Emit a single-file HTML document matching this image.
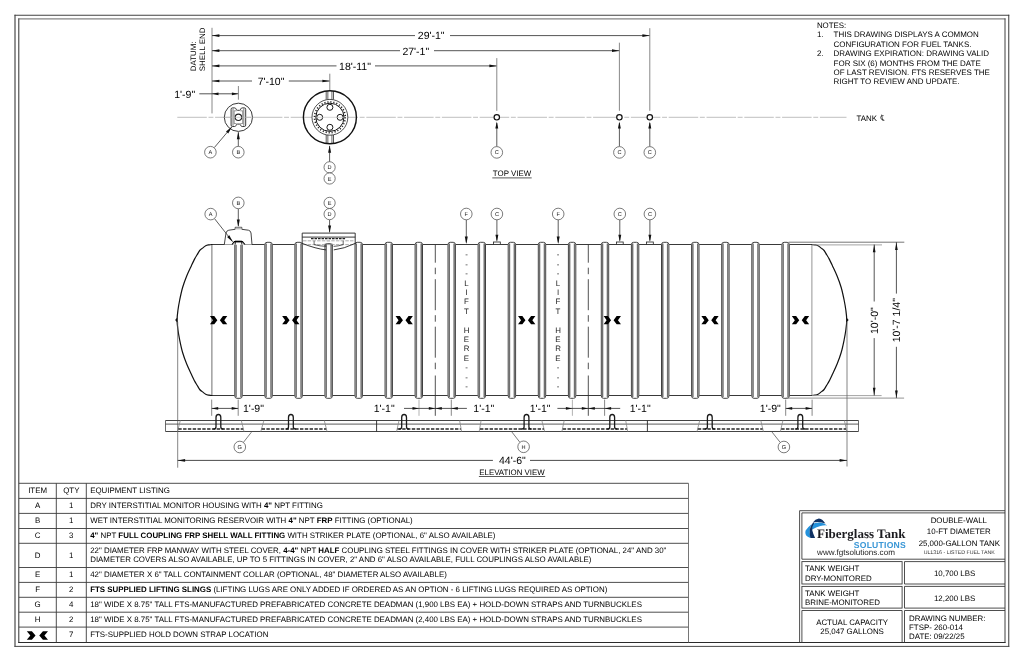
<!DOCTYPE html>
<html lang="en">
<head>
<meta charset="utf-8">
<title>Double-Wall 10-ft Diameter 25,000-Gallon Fuel Tank Drawing</title>
<style>
html,body{margin:0;padding:0;background:#fff;}
body{width:1024px;height:661px;overflow:hidden;font-family:"Liberation Sans",sans-serif;}
svg{display:block;position:absolute;left:0;top:0;}
svg text{white-space:pre;}
svg{will-change:transform;}
g.mono{filter:grayscale(1);}
</style>
</head>
<body>
<svg width="1024" height="661" viewBox="0 0 1024 661" shape-rendering="geometricPrecision" text-rendering="geometricPrecision">
<rect x="0" y="0" width="1024" height="661" fill="#ffffff"/>
<g class="mono">
<line x1="15.00" y1="14.76" x2="15.00" y2="646.90" stroke="#262626" stroke-width="1.0" />
<line x1="14.50" y1="15.26" x2="1009.28" y2="15.26" stroke="#434343" stroke-width="1.0" />
<line x1="1008.78" y1="14.76" x2="1008.78" y2="646.90" stroke="#393939" stroke-width="1.0" />
<line x1="14.50" y1="646.40" x2="1009.28" y2="646.40" stroke="#4a4a4a" stroke-width="1.0" />
<line x1="18.80" y1="18.42" x2="18.80" y2="643.00" stroke="#313131" stroke-width="1.0" />
<line x1="18.30" y1="18.92" x2="1005.50" y2="18.92" stroke="#666666" stroke-width="1.0" />
<line x1="1005.00" y1="18.42" x2="1005.00" y2="643.00" stroke="#414141" stroke-width="1.0" />
<line x1="18.30" y1="642.50" x2="1005.50" y2="642.50" stroke="#2b2b2b" stroke-width="1.0" />
<text x="816.90" y="27.60" font-family="'Liberation Sans', sans-serif" font-size="7.9" text-anchor="start" font-weight="400" fill="#000" >NOTES:</text>
<text x="816.90" y="37.40" font-family="'Liberation Sans', sans-serif" font-size="7.97" text-anchor="start" font-weight="400" fill="#000" >1.</text>
<text x="833.60" y="37.40" font-family="'Liberation Sans', sans-serif" font-size="7.97" text-anchor="start" font-weight="400" fill="#000" >THIS DRAWING DISPLAYS A COMMON</text>
<text x="833.60" y="46.77" font-family="'Liberation Sans', sans-serif" font-size="7.97" text-anchor="start" font-weight="400" fill="#000" >CONFIGURATION FOR FUEL TANKS.</text>
<text x="816.90" y="56.14" font-family="'Liberation Sans', sans-serif" font-size="7.97" text-anchor="start" font-weight="400" fill="#000" >2.</text>
<text x="833.60" y="56.14" font-family="'Liberation Sans', sans-serif" font-size="7.97" text-anchor="start" font-weight="400" fill="#000" >DRAWING EXPIRATION: DRAWING VALID</text>
<text x="833.60" y="65.51" font-family="'Liberation Sans', sans-serif" font-size="7.97" text-anchor="start" font-weight="400" fill="#000" >FOR SIX (6) MONTHS FROM THE DATE</text>
<text x="833.60" y="74.88" font-family="'Liberation Sans', sans-serif" font-size="7.97" text-anchor="start" font-weight="400" fill="#000" >OF LAST REVISION. FTS RESERVES THE</text>
<text x="833.60" y="84.25" font-family="'Liberation Sans', sans-serif" font-size="7.97" text-anchor="start" font-weight="400" fill="#000" >RIGHT TO REVIEW AND UPDATE.</text>
<line x1="177.30" y1="117.30" x2="846.50" y2="117.30" stroke="#aaaaaa" stroke-width="0.75" stroke-dasharray="29.5 1.7 4.9 1.7"/>
<text x="856.60" y="120.70" font-family="'Liberation Sans', sans-serif" font-size="7.9" text-anchor="start" font-weight="400" fill="#000" >TANK</text>
<path d="M883.6,115.6 Q880.6,115.0 880.6,117.6 Q880.8,120.0 883.6,119.6" fill="none" stroke="#333" stroke-width="0.8" />
<path d="M881.6,114.6 L882.6,120.4 L884.4,120.4" fill="none" stroke="#262626" stroke-width="0.75" />
<line x1="212.00" y1="27.80" x2="212.00" y2="113.40" stroke="#7a7a7a" stroke-width="0.9" />
<text transform="translate(195.6,71.2) rotate(-90)" font-family="'Liberation Sans', sans-serif" font-size="7.9" fill="#000">DATUM:</text>
<text transform="translate(205.4,71.2) rotate(-90)" font-family="'Liberation Sans', sans-serif" font-size="7.9" fill="#000">SHELL END</text>
<line x1="212.00" y1="35.60" x2="415.00" y2="35.60" stroke="#2a2a2a" stroke-width="0.8" />
<line x1="450.00" y1="35.60" x2="649.80" y2="35.60" stroke="#2a2a2a" stroke-width="0.8" />
<polygon points="212.00,35.60 219.40,34.25 219.40,36.95" fill="#111"/>
<polygon points="649.80,35.60 642.40,36.95 642.40,34.25" fill="#111"/>
<text x="431.20" y="39.40" font-family="'Liberation Sans', sans-serif" font-size="10.5" text-anchor="middle" font-weight="400" fill="#000" >29&#39;-1&quot;</text>
<line x1="212.00" y1="50.70" x2="400.00" y2="50.70" stroke="#2a2a2a" stroke-width="0.8" />
<line x1="434.00" y1="50.70" x2="619.40" y2="50.70" stroke="#2a2a2a" stroke-width="0.8" />
<polygon points="212.00,50.70 219.40,49.35 219.40,52.05" fill="#111"/>
<polygon points="619.40,50.70 612.00,52.05 612.00,49.35" fill="#111"/>
<text x="415.80" y="54.50" font-family="'Liberation Sans', sans-serif" font-size="10.5" text-anchor="middle" font-weight="400" fill="#000" >27&#39;-1&quot;</text>
<line x1="212.00" y1="65.90" x2="336.50" y2="65.90" stroke="#2a2a2a" stroke-width="0.8" />
<line x1="375.00" y1="65.90" x2="496.80" y2="65.90" stroke="#2a2a2a" stroke-width="0.8" />
<polygon points="212.00,65.90 219.40,64.55 219.40,67.25" fill="#111"/>
<polygon points="496.80,65.90 489.40,67.25 489.40,64.55" fill="#111"/>
<text x="355.00" y="69.70" font-family="'Liberation Sans', sans-serif" font-size="10.5" text-anchor="middle" font-weight="400" fill="#000" >18&#39;-11&quot;</text>
<line x1="212.00" y1="81.00" x2="252.00" y2="81.00" stroke="#2a2a2a" stroke-width="0.8" />
<line x1="288.80" y1="81.00" x2="329.80" y2="81.00" stroke="#2a2a2a" stroke-width="0.8" />
<polygon points="212.00,81.00 219.40,79.65 219.40,82.35" fill="#111"/>
<polygon points="329.80,81.00 322.40,82.35 322.40,79.65" fill="#111"/>
<text x="271.00" y="84.80" font-family="'Liberation Sans', sans-serif" font-size="10.5" text-anchor="middle" font-weight="400" fill="#000" >7&#39;-10&quot;</text>
<line x1="199.30" y1="93.80" x2="238.40" y2="93.80" stroke="#2a2a2a" stroke-width="0.8" />
<polygon points="212.00,93.80 218.50,92.45 218.50,95.15" fill="#111"/>
<polygon points="238.40,93.80 231.90,95.15 231.90,92.45" fill="#111"/>
<text x="184.70" y="97.60" font-family="'Liberation Sans', sans-serif" font-size="10.5" text-anchor="middle" font-weight="400" fill="#000" >1&#39;-9&quot;</text>
<line x1="238.40" y1="86.00" x2="238.40" y2="99.70" stroke="#7a7a7a" stroke-width="0.9" />
<line x1="329.80" y1="73.70" x2="329.80" y2="99.00" stroke="#7a7a7a" stroke-width="0.9" />
<line x1="496.80" y1="58.10" x2="496.80" y2="110.80" stroke="#7a7a7a" stroke-width="0.9" />
<line x1="619.40" y1="42.70" x2="619.40" y2="110.80" stroke="#7a7a7a" stroke-width="0.9" />
<line x1="649.80" y1="28.20" x2="649.80" y2="110.80" stroke="#7a7a7a" stroke-width="0.9" />
<circle cx="238.40" cy="117.30" r="14.10" fill="none" stroke="#222" stroke-width="0.9" />
<path d="M231.1,109.3 Q231.1,107.9 232.4,107.9 L234.6,107.9 Q235.6,107.9 235.95,108.8 L236.45,109.8 Q236.75,110.3 237.4,110.3 L239.4,110.3 Q240.05,110.3 240.35,109.8 L240.85,108.8 Q241.2,107.9 242.2,107.9 L244.4,107.9 Q245.7,107.9 245.7,109.3 L245.7,125.1 Q245.7,126.5 244.4,126.5 L242.2,126.5 Q241.2,126.5 240.85,125.6 L240.35,124.6 Q240.05,124.1 239.4,124.1 L237.4,124.1 Q236.75,124.1 236.45,124.6 L235.95,125.6 Q235.6,126.5 234.6,126.5 L232.4,126.5 Q231.1,126.5 231.1,125.1 Z" fill="#fff" stroke="#222" stroke-width="0.9" />
<line x1="233.00" y1="108.60" x2="233.00" y2="125.80" stroke="#444" stroke-width="0.7" />
<line x1="243.80" y1="108.60" x2="243.80" y2="125.80" stroke="#444" stroke-width="0.7" />
<path d="M234.2,110.6 L234.2,123.8 M242.6,110.6 L242.6,123.8 M234.2,110.8 L236.6,110.8 M240.2,110.8 L242.6,110.8 M234.2,123.6 L236.6,123.6 M240.2,123.6 L242.6,123.6" fill="none" stroke="#555" stroke-width="0.6" />
<circle cx="238.40" cy="117.30" r="3.20" fill="#fff" stroke="#222" stroke-width="1.1" />
<line x1="224.30" y1="117.30" x2="252.50" y2="117.30" stroke="#bbb" stroke-width="0.6" />
<line x1="214.30" y1="147.60" x2="231.90" y2="126.80" stroke="#262626" stroke-width="0.75" />
<polygon points="231.90,126.80 228.27,133.42 225.98,131.48" fill="#111"/>
<line x1="238.30" y1="146.40" x2="238.30" y2="132.20" stroke="#262626" stroke-width="0.75" />
<polygon points="238.30,131.80 239.80,139.20 236.80,139.20" fill="#111"/>
<circle cx="210.40" cy="152.20" r="5.80" fill="#fff" stroke="#444" stroke-width="0.7" />
<text x="210.40" y="154.20" font-family="'Liberation Sans', sans-serif" font-size="5.6" text-anchor="middle" font-weight="400" fill="#222" >A</text>
<circle cx="238.30" cy="152.20" r="5.80" fill="#fff" stroke="#444" stroke-width="0.7" />
<text x="238.30" y="154.20" font-family="'Liberation Sans', sans-serif" font-size="5.6" text-anchor="middle" font-weight="400" fill="#222" >B</text>
<rect x="326.0" y="91.00" width="7.6" height="8.70" fill="#fff" stroke="none"/>
<line x1="326.20" y1="91.00" x2="326.20" y2="99.70" stroke="#444" stroke-width="0.9" />
<line x1="333.50" y1="91.00" x2="333.50" y2="99.70" stroke="#444" stroke-width="0.9" />
<line x1="327.80" y1="91.00" x2="327.80" y2="99.70" stroke="#888" stroke-width="1.3" />
<line x1="331.90" y1="91.00" x2="331.90" y2="99.70" stroke="#888" stroke-width="1.3" />
<rect x="326.0" y="134.90" width="7.6" height="8.70" fill="#fff" stroke="none"/>
<line x1="326.20" y1="134.90" x2="326.20" y2="143.60" stroke="#444" stroke-width="0.9" />
<line x1="333.50" y1="134.90" x2="333.50" y2="143.60" stroke="#444" stroke-width="0.9" />
<line x1="327.80" y1="134.90" x2="327.80" y2="143.60" stroke="#888" stroke-width="1.3" />
<line x1="331.90" y1="134.90" x2="331.90" y2="143.60" stroke="#888" stroke-width="1.3" />
<circle cx="329.90" cy="117.30" r="26.50" fill="none" stroke="#111" stroke-width="1.4" />
<circle cx="329.90" cy="117.30" r="17.90" fill="#fff" stroke="#222" stroke-width="0.8" />
<circle cx="329.90" cy="117.30" r="15.40" fill="none" stroke="#222" stroke-width="1.6" stroke-dasharray="1.15 1.874"/>
<circle cx="329.90" cy="117.30" r="14.10" fill="none" stroke="#111" stroke-width="1.0" />
<circle cx="329.90" cy="107.30" r="3.00" fill="#fff" stroke="#1a1a1a" stroke-width="1.0" />
<circle cx="329.90" cy="127.30" r="3.00" fill="#fff" stroke="#1a1a1a" stroke-width="1.0" />
<circle cx="319.70" cy="117.30" r="3.00" fill="#fff" stroke="#1a1a1a" stroke-width="1.0" />
<circle cx="340.10" cy="117.30" r="3.00" fill="#fff" stroke="#1a1a1a" stroke-width="1.0" />
<line x1="315.90" y1="117.30" x2="343.90" y2="117.30" stroke="#bbb" stroke-width="0.6" />
<line x1="329.60" y1="161.80" x2="329.60" y2="146.00" stroke="#262626" stroke-width="0.75" />
<polygon points="329.60,145.30 331.10,152.70 328.10,152.70" fill="#111"/>
<circle cx="329.60" cy="167.30" r="5.60" fill="#fff" stroke="#444" stroke-width="0.7" />
<text x="329.60" y="169.30" font-family="'Liberation Sans', sans-serif" font-size="5.6" text-anchor="middle" font-weight="400" fill="#222" >D</text>
<circle cx="329.60" cy="178.50" r="5.60" fill="#fff" stroke="#444" stroke-width="0.7" />
<text x="329.60" y="180.50" font-family="'Liberation Sans', sans-serif" font-size="5.6" text-anchor="middle" font-weight="400" fill="#222" >E</text>
<circle cx="496.80" cy="117.30" r="2.70" fill="#fff" stroke="#111" stroke-width="1.2" />
<line x1="496.80" y1="146.50" x2="496.80" y2="123.00" stroke="#262626" stroke-width="0.75" />
<polygon points="496.80,121.60 498.25,128.60 495.35,128.60" fill="#111"/>
<circle cx="496.80" cy="152.40" r="5.80" fill="#fff" stroke="#444" stroke-width="0.7" />
<text x="496.80" y="154.40" font-family="'Liberation Sans', sans-serif" font-size="5.6" text-anchor="middle" font-weight="400" fill="#222" >C</text>
<circle cx="619.40" cy="117.30" r="2.70" fill="#fff" stroke="#111" stroke-width="1.2" />
<line x1="619.40" y1="146.50" x2="619.40" y2="123.00" stroke="#262626" stroke-width="0.75" />
<polygon points="619.40,121.60 620.85,128.60 617.95,128.60" fill="#111"/>
<circle cx="619.40" cy="152.40" r="5.80" fill="#fff" stroke="#444" stroke-width="0.7" />
<text x="619.40" y="154.40" font-family="'Liberation Sans', sans-serif" font-size="5.6" text-anchor="middle" font-weight="400" fill="#222" >C</text>
<circle cx="649.80" cy="117.30" r="2.70" fill="#fff" stroke="#111" stroke-width="1.2" />
<line x1="649.80" y1="146.50" x2="649.80" y2="123.00" stroke="#262626" stroke-width="0.75" />
<polygon points="649.80,121.60 651.25,128.60 648.35,128.60" fill="#111"/>
<circle cx="649.80" cy="152.40" r="5.80" fill="#fff" stroke="#444" stroke-width="0.7" />
<text x="649.80" y="154.40" font-family="'Liberation Sans', sans-serif" font-size="5.6" text-anchor="middle" font-weight="400" fill="#222" >C</text>
<text x="512.00" y="176.40" font-family="'Liberation Sans', sans-serif" font-size="7.9" text-anchor="middle" font-weight="400" fill="#000" >TOP VIEW</text>
<line x1="492.30" y1="177.90" x2="531.70" y2="177.90" stroke="#111" stroke-width="0.7" />
<line x1="211.90" y1="244.50" x2="211.90" y2="395.50" stroke="#606060" stroke-width="0.9" />
<line x1="811.90" y1="244.50" x2="811.90" y2="395.50" stroke="#888" stroke-width="0.9" />
<line x1="211.90" y1="244.50" x2="811.90" y2="244.50" stroke="#222" stroke-width="0.9" />
<line x1="211.90" y1="395.50" x2="811.90" y2="395.50" stroke="#222" stroke-width="0.9" />
<path d="M211.90,244.50 C210.73,244.56 209.93,244.64 208.90,244.85 C207.87,245.06 206.75,245.21 205.70,245.75 C204.65,246.29 203.60,247.31 202.60,248.10 C201.60,248.89 200.62,249.38 199.70,250.50 C198.78,251.62 197.92,253.45 197.10,254.80 C196.28,256.15 195.75,256.78 194.80,258.60 C193.85,260.42 192.75,262.80 191.40,265.70 C190.05,268.60 188.17,272.37 186.70,276.00 C185.23,279.63 183.77,283.50 182.60,287.50 C181.43,291.50 180.48,296.17 179.70,300.00 C178.92,303.83 178.34,307.17 177.90,310.50 C177.46,313.83 177.05,316.83 177.05,320.00 C177.05,323.17 177.46,326.17 177.90,329.50 C178.34,332.83 178.92,336.17 179.70,340.00 C180.48,343.83 181.43,348.50 182.60,352.50 C183.77,356.50 185.23,360.37 186.70,364.00 C188.17,367.63 190.05,371.40 191.40,374.30 C192.75,377.20 193.85,379.58 194.80,381.40 C195.75,383.22 196.28,383.85 197.10,385.20 C197.92,386.55 198.78,388.38 199.70,389.50 C200.62,390.62 201.60,391.11 202.60,391.90 C203.60,392.69 204.65,393.71 205.70,394.25 C206.75,394.79 207.87,394.94 208.90,395.15 C209.93,395.36 210.73,395.44 211.90,395.50" fill="none" stroke="#111" stroke-width="1.2" stroke-linejoin="round" stroke-linecap="round"/>
<polygon points="177.35,317.40 175.15,320.00 177.35,322.60" fill="#111"/>
<path d="M811.90,244.50 C813.07,244.56 813.87,244.64 814.90,244.85 C815.93,245.06 817.05,245.21 818.10,245.75 C819.15,246.29 820.20,247.31 821.20,248.10 C822.20,248.89 823.18,249.38 824.10,250.50 C825.02,251.62 825.88,253.45 826.70,254.80 C827.52,256.15 828.05,256.78 829.00,258.60 C829.95,260.42 831.05,262.80 832.40,265.70 C833.75,268.60 835.63,272.37 837.10,276.00 C838.57,279.63 840.03,283.50 841.20,287.50 C842.37,291.50 843.32,296.17 844.10,300.00 C844.88,303.83 845.46,307.17 845.90,310.50 C846.34,313.83 846.75,316.83 846.75,320.00 C846.75,323.17 846.34,326.17 845.90,329.50 C845.46,332.83 844.88,336.17 844.10,340.00 C843.32,343.83 842.37,348.50 841.20,352.50 C840.03,356.50 838.57,360.37 837.10,364.00 C835.63,367.63 833.75,371.40 832.40,374.30 C831.05,377.20 829.95,379.58 829.00,381.40 C828.05,383.22 827.52,383.85 826.70,385.20 C825.88,386.55 825.02,388.38 824.10,389.50 C823.18,390.62 822.20,391.11 821.20,391.90 C820.20,392.69 819.15,393.71 818.10,394.25 C817.05,394.79 815.93,394.94 814.90,395.15 C813.87,395.36 813.07,395.44 811.90,395.50" fill="none" stroke="#111" stroke-width="1.2" stroke-linejoin="round" stroke-linecap="round"/>
<polygon points="846.45,317.40 848.65,320.00 846.45,322.60" fill="#111"/>
<rect x="302.2" y="233.1" width="53.0" height="11.9" fill="#fff" stroke="none"/>
<rect x="234.50" y="242.50" width="8" height="155.60" rx="2.2" ry="2.2" fill="#fff" stroke="none"/>
<path d="M234.80,395.90 L234.80,244.70 Q234.80,242.30 237.00,242.30 L240.00,242.30 Q242.20,242.30 242.20,244.70 L242.20,395.90 Q242.20,398.30 240.00,398.30 L237.00,398.30 Q234.80,398.30 234.80,395.90 Z" fill="none" stroke="#404040" stroke-width="1.0" />
<line x1="236.05" y1="243.50" x2="236.05" y2="397.10" stroke="#707070" stroke-width="1.5" />
<line x1="240.95" y1="243.50" x2="240.95" y2="397.10" stroke="#707070" stroke-width="1.5" />
<rect x="264.55" y="242.50" width="8" height="155.60" rx="2.2" ry="2.2" fill="#fff" stroke="none"/>
<path d="M264.85,395.90 L264.85,244.70 Q264.85,242.30 267.05,242.30 L270.05,242.30 Q272.25,242.30 272.25,244.70 L272.25,395.90 Q272.25,398.30 270.05,398.30 L267.05,398.30 Q264.85,398.30 264.85,395.90 Z" fill="none" stroke="#404040" stroke-width="1.0" />
<line x1="266.10" y1="243.50" x2="266.10" y2="397.10" stroke="#707070" stroke-width="1.5" />
<line x1="271.00" y1="243.50" x2="271.00" y2="397.10" stroke="#707070" stroke-width="1.5" />
<rect x="294.60" y="242.50" width="8" height="155.60" rx="2.2" ry="2.2" fill="#fff" stroke="none"/>
<path d="M294.90,395.90 L294.90,244.70 Q294.90,242.30 297.10,242.30 L300.10,242.30 Q302.30,242.30 302.30,244.70 L302.30,395.90 Q302.30,398.30 300.10,398.30 L297.10,398.30 Q294.90,398.30 294.90,395.90 Z" fill="none" stroke="#404040" stroke-width="1.0" />
<line x1="296.15" y1="243.50" x2="296.15" y2="397.10" stroke="#707070" stroke-width="1.5" />
<line x1="301.05" y1="243.50" x2="301.05" y2="397.10" stroke="#707070" stroke-width="1.5" />
<rect x="324.65" y="242.50" width="8" height="155.60" rx="2.2" ry="2.2" fill="#fff" stroke="none"/>
<path d="M324.95,395.90 L324.95,244.70 Q324.95,242.30 327.15,242.30 L330.15,242.30 Q332.35,242.30 332.35,244.70 L332.35,395.90 Q332.35,398.30 330.15,398.30 L327.15,398.30 Q324.95,398.30 324.95,395.90 Z" fill="none" stroke="#404040" stroke-width="1.0" />
<line x1="326.20" y1="243.50" x2="326.20" y2="397.10" stroke="#707070" stroke-width="1.5" />
<line x1="331.10" y1="243.50" x2="331.10" y2="397.10" stroke="#707070" stroke-width="1.5" />
<rect x="354.70" y="242.50" width="8" height="155.60" rx="2.2" ry="2.2" fill="#fff" stroke="none"/>
<path d="M355.00,395.90 L355.00,244.70 Q355.00,242.30 357.20,242.30 L360.20,242.30 Q362.40,242.30 362.40,244.70 L362.40,395.90 Q362.40,398.30 360.20,398.30 L357.20,398.30 Q355.00,398.30 355.00,395.90 Z" fill="none" stroke="#404040" stroke-width="1.0" />
<line x1="356.25" y1="243.50" x2="356.25" y2="397.10" stroke="#707070" stroke-width="1.5" />
<line x1="361.15" y1="243.50" x2="361.15" y2="397.10" stroke="#707070" stroke-width="1.5" />
<rect x="384.75" y="242.50" width="8" height="155.60" rx="2.2" ry="2.2" fill="#fff" stroke="none"/>
<path d="M385.05,395.90 L385.05,244.70 Q385.05,242.30 387.25,242.30 L390.25,242.30 Q392.45,242.30 392.45,244.70 L392.45,395.90 Q392.45,398.30 390.25,398.30 L387.25,398.30 Q385.05,398.30 385.05,395.90 Z" fill="none" stroke="#404040" stroke-width="1.0" />
<line x1="386.30" y1="243.50" x2="386.30" y2="397.10" stroke="#707070" stroke-width="1.5" />
<line x1="391.20" y1="243.50" x2="391.20" y2="397.10" stroke="#707070" stroke-width="1.5" />
<rect x="414.80" y="242.50" width="8" height="155.60" rx="2.2" ry="2.2" fill="#fff" stroke="none"/>
<path d="M415.10,395.90 L415.10,244.70 Q415.10,242.30 417.30,242.30 L420.30,242.30 Q422.50,242.30 422.50,244.70 L422.50,395.90 Q422.50,398.30 420.30,398.30 L417.30,398.30 Q415.10,398.30 415.10,395.90 Z" fill="none" stroke="#404040" stroke-width="1.0" />
<line x1="416.35" y1="243.50" x2="416.35" y2="397.10" stroke="#707070" stroke-width="1.5" />
<line x1="421.25" y1="243.50" x2="421.25" y2="397.10" stroke="#707070" stroke-width="1.5" />
<rect x="447.70" y="242.50" width="8" height="155.60" rx="2.2" ry="2.2" fill="#fff" stroke="none"/>
<path d="M448.00,395.90 L448.00,244.70 Q448.00,242.30 450.20,242.30 L453.20,242.30 Q455.40,242.30 455.40,244.70 L455.40,395.90 Q455.40,398.30 453.20,398.30 L450.20,398.30 Q448.00,398.30 448.00,395.90 Z" fill="none" stroke="#404040" stroke-width="1.0" />
<line x1="449.25" y1="243.50" x2="449.25" y2="397.10" stroke="#707070" stroke-width="1.5" />
<line x1="454.15" y1="243.50" x2="454.15" y2="397.10" stroke="#707070" stroke-width="1.5" />
<rect x="477.80" y="242.50" width="8" height="155.60" rx="2.2" ry="2.2" fill="#fff" stroke="none"/>
<path d="M478.10,395.90 L478.10,244.70 Q478.10,242.30 480.30,242.30 L483.30,242.30 Q485.50,242.30 485.50,244.70 L485.50,395.90 Q485.50,398.30 483.30,398.30 L480.30,398.30 Q478.10,398.30 478.10,395.90 Z" fill="none" stroke="#404040" stroke-width="1.0" />
<line x1="479.35" y1="243.50" x2="479.35" y2="397.10" stroke="#707070" stroke-width="1.5" />
<line x1="484.25" y1="243.50" x2="484.25" y2="397.10" stroke="#707070" stroke-width="1.5" />
<rect x="507.90" y="242.50" width="8" height="155.60" rx="2.2" ry="2.2" fill="#fff" stroke="none"/>
<path d="M508.20,395.90 L508.20,244.70 Q508.20,242.30 510.40,242.30 L513.40,242.30 Q515.60,242.30 515.60,244.70 L515.60,395.90 Q515.60,398.30 513.40,398.30 L510.40,398.30 Q508.20,398.30 508.20,395.90 Z" fill="none" stroke="#404040" stroke-width="1.0" />
<line x1="509.45" y1="243.50" x2="509.45" y2="397.10" stroke="#707070" stroke-width="1.5" />
<line x1="514.35" y1="243.50" x2="514.35" y2="397.10" stroke="#707070" stroke-width="1.5" />
<rect x="538.00" y="242.50" width="8" height="155.60" rx="2.2" ry="2.2" fill="#fff" stroke="none"/>
<path d="M538.30,395.90 L538.30,244.70 Q538.30,242.30 540.50,242.30 L543.50,242.30 Q545.70,242.30 545.70,244.70 L545.70,395.90 Q545.70,398.30 543.50,398.30 L540.50,398.30 Q538.30,398.30 538.30,395.90 Z" fill="none" stroke="#404040" stroke-width="1.0" />
<line x1="539.55" y1="243.50" x2="539.55" y2="397.10" stroke="#707070" stroke-width="1.5" />
<line x1="544.45" y1="243.50" x2="544.45" y2="397.10" stroke="#707070" stroke-width="1.5" />
<rect x="568.10" y="242.50" width="8" height="155.60" rx="2.2" ry="2.2" fill="#fff" stroke="none"/>
<path d="M568.40,395.90 L568.40,244.70 Q568.40,242.30 570.60,242.30 L573.60,242.30 Q575.80,242.30 575.80,244.70 L575.80,395.90 Q575.80,398.30 573.60,398.30 L570.60,398.30 Q568.40,398.30 568.40,395.90 Z" fill="none" stroke="#404040" stroke-width="1.0" />
<line x1="569.65" y1="243.50" x2="569.65" y2="397.10" stroke="#707070" stroke-width="1.5" />
<line x1="574.55" y1="243.50" x2="574.55" y2="397.10" stroke="#707070" stroke-width="1.5" />
<rect x="601.00" y="242.50" width="8" height="155.60" rx="2.2" ry="2.2" fill="#fff" stroke="none"/>
<path d="M601.30,395.90 L601.30,244.70 Q601.30,242.30 603.50,242.30 L606.50,242.30 Q608.70,242.30 608.70,244.70 L608.70,395.90 Q608.70,398.30 606.50,398.30 L603.50,398.30 Q601.30,398.30 601.30,395.90 Z" fill="none" stroke="#404040" stroke-width="1.0" />
<line x1="602.55" y1="243.50" x2="602.55" y2="397.10" stroke="#707070" stroke-width="1.5" />
<line x1="607.45" y1="243.50" x2="607.45" y2="397.10" stroke="#707070" stroke-width="1.5" />
<rect x="631.10" y="242.50" width="8" height="155.60" rx="2.2" ry="2.2" fill="#fff" stroke="none"/>
<path d="M631.40,395.90 L631.40,244.70 Q631.40,242.30 633.60,242.30 L636.60,242.30 Q638.80,242.30 638.80,244.70 L638.80,395.90 Q638.80,398.30 636.60,398.30 L633.60,398.30 Q631.40,398.30 631.40,395.90 Z" fill="none" stroke="#404040" stroke-width="1.0" />
<line x1="632.65" y1="243.50" x2="632.65" y2="397.10" stroke="#707070" stroke-width="1.5" />
<line x1="637.55" y1="243.50" x2="637.55" y2="397.10" stroke="#707070" stroke-width="1.5" />
<rect x="661.20" y="242.50" width="8" height="155.60" rx="2.2" ry="2.2" fill="#fff" stroke="none"/>
<path d="M661.50,395.90 L661.50,244.70 Q661.50,242.30 663.70,242.30 L666.70,242.30 Q668.90,242.30 668.90,244.70 L668.90,395.90 Q668.90,398.30 666.70,398.30 L663.70,398.30 Q661.50,398.30 661.50,395.90 Z" fill="none" stroke="#404040" stroke-width="1.0" />
<line x1="662.75" y1="243.50" x2="662.75" y2="397.10" stroke="#707070" stroke-width="1.5" />
<line x1="667.65" y1="243.50" x2="667.65" y2="397.10" stroke="#707070" stroke-width="1.5" />
<rect x="691.30" y="242.50" width="8" height="155.60" rx="2.2" ry="2.2" fill="#fff" stroke="none"/>
<path d="M691.60,395.90 L691.60,244.70 Q691.60,242.30 693.80,242.30 L696.80,242.30 Q699.00,242.30 699.00,244.70 L699.00,395.90 Q699.00,398.30 696.80,398.30 L693.80,398.30 Q691.60,398.30 691.60,395.90 Z" fill="none" stroke="#404040" stroke-width="1.0" />
<line x1="692.85" y1="243.50" x2="692.85" y2="397.10" stroke="#707070" stroke-width="1.5" />
<line x1="697.75" y1="243.50" x2="697.75" y2="397.10" stroke="#707070" stroke-width="1.5" />
<rect x="721.40" y="242.50" width="8" height="155.60" rx="2.2" ry="2.2" fill="#fff" stroke="none"/>
<path d="M721.70,395.90 L721.70,244.70 Q721.70,242.30 723.90,242.30 L726.90,242.30 Q729.10,242.30 729.10,244.70 L729.10,395.90 Q729.10,398.30 726.90,398.30 L723.90,398.30 Q721.70,398.30 721.70,395.90 Z" fill="none" stroke="#404040" stroke-width="1.0" />
<line x1="722.95" y1="243.50" x2="722.95" y2="397.10" stroke="#707070" stroke-width="1.5" />
<line x1="727.85" y1="243.50" x2="727.85" y2="397.10" stroke="#707070" stroke-width="1.5" />
<rect x="751.50" y="242.50" width="8" height="155.60" rx="2.2" ry="2.2" fill="#fff" stroke="none"/>
<path d="M751.80,395.90 L751.80,244.70 Q751.80,242.30 754.00,242.30 L757.00,242.30 Q759.20,242.30 759.20,244.70 L759.20,395.90 Q759.20,398.30 757.00,398.30 L754.00,398.30 Q751.80,398.30 751.80,395.90 Z" fill="none" stroke="#404040" stroke-width="1.0" />
<line x1="753.05" y1="243.50" x2="753.05" y2="397.10" stroke="#707070" stroke-width="1.5" />
<line x1="757.95" y1="243.50" x2="757.95" y2="397.10" stroke="#707070" stroke-width="1.5" />
<rect x="781.60" y="242.50" width="8" height="155.60" rx="2.2" ry="2.2" fill="#fff" stroke="none"/>
<path d="M781.90,395.90 L781.90,244.70 Q781.90,242.30 784.10,242.30 L787.10,242.30 Q789.30,242.30 789.30,244.70 L789.30,395.90 Q789.30,398.30 787.10,398.30 L784.10,398.30 Q781.90,398.30 781.90,395.90 Z" fill="none" stroke="#404040" stroke-width="1.0" />
<line x1="783.15" y1="243.50" x2="783.15" y2="397.10" stroke="#707070" stroke-width="1.5" />
<line x1="788.05" y1="243.50" x2="788.05" y2="397.10" stroke="#707070" stroke-width="1.5" />
<line x1="435.30" y1="244.50" x2="435.30" y2="371.60" stroke="#333" stroke-width="0.85" stroke-dasharray="31 5 6.5 5" stroke-dashoffset="12.8"/>
<line x1="435.30" y1="375.50" x2="435.30" y2="415.80" stroke="#333" stroke-width="0.85" />
<line x1="588.30" y1="244.50" x2="588.30" y2="371.60" stroke="#333" stroke-width="0.85" stroke-dasharray="31 5 6.5 5" stroke-dashoffset="12.8"/>
<line x1="588.30" y1="375.50" x2="588.30" y2="415.80" stroke="#333" stroke-width="0.85" />
<text x="466.50" y="257.29" font-family="'Liberation Sans', sans-serif" font-size="7.9" text-anchor="middle" font-weight="400" fill="#222" >-</text>
<text x="466.50" y="266.71" font-family="'Liberation Sans', sans-serif" font-size="7.9" text-anchor="middle" font-weight="400" fill="#222" >-</text>
<text x="466.50" y="276.13" font-family="'Liberation Sans', sans-serif" font-size="7.9" text-anchor="middle" font-weight="400" fill="#222" >-</text>
<text x="466.50" y="285.55" font-family="'Liberation Sans', sans-serif" font-size="7.9" text-anchor="middle" font-weight="400" fill="#222" >L</text>
<text x="466.50" y="294.97" font-family="'Liberation Sans', sans-serif" font-size="7.9" text-anchor="middle" font-weight="400" fill="#222" >I</text>
<text x="466.50" y="304.39" font-family="'Liberation Sans', sans-serif" font-size="7.9" text-anchor="middle" font-weight="400" fill="#222" >F</text>
<text x="466.50" y="313.81" font-family="'Liberation Sans', sans-serif" font-size="7.9" text-anchor="middle" font-weight="400" fill="#222" >T</text>
<text x="466.50" y="332.65" font-family="'Liberation Sans', sans-serif" font-size="7.9" text-anchor="middle" font-weight="400" fill="#222" >H</text>
<text x="466.50" y="342.07" font-family="'Liberation Sans', sans-serif" font-size="7.9" text-anchor="middle" font-weight="400" fill="#222" >E</text>
<text x="466.50" y="351.49" font-family="'Liberation Sans', sans-serif" font-size="7.9" text-anchor="middle" font-weight="400" fill="#222" >R</text>
<text x="466.50" y="360.91" font-family="'Liberation Sans', sans-serif" font-size="7.9" text-anchor="middle" font-weight="400" fill="#222" >E</text>
<text x="466.50" y="370.33" font-family="'Liberation Sans', sans-serif" font-size="7.9" text-anchor="middle" font-weight="400" fill="#222" >-</text>
<text x="466.50" y="379.75" font-family="'Liberation Sans', sans-serif" font-size="7.9" text-anchor="middle" font-weight="400" fill="#222" >-</text>
<text x="466.50" y="389.17" font-family="'Liberation Sans', sans-serif" font-size="7.9" text-anchor="middle" font-weight="400" fill="#222" >-</text>
<text x="558.00" y="257.29" font-family="'Liberation Sans', sans-serif" font-size="7.9" text-anchor="middle" font-weight="400" fill="#222" >-</text>
<text x="558.00" y="266.71" font-family="'Liberation Sans', sans-serif" font-size="7.9" text-anchor="middle" font-weight="400" fill="#222" >-</text>
<text x="558.00" y="276.13" font-family="'Liberation Sans', sans-serif" font-size="7.9" text-anchor="middle" font-weight="400" fill="#222" >-</text>
<text x="558.00" y="285.55" font-family="'Liberation Sans', sans-serif" font-size="7.9" text-anchor="middle" font-weight="400" fill="#222" >L</text>
<text x="558.00" y="294.97" font-family="'Liberation Sans', sans-serif" font-size="7.9" text-anchor="middle" font-weight="400" fill="#222" >I</text>
<text x="558.00" y="304.39" font-family="'Liberation Sans', sans-serif" font-size="7.9" text-anchor="middle" font-weight="400" fill="#222" >F</text>
<text x="558.00" y="313.81" font-family="'Liberation Sans', sans-serif" font-size="7.9" text-anchor="middle" font-weight="400" fill="#222" >T</text>
<text x="558.00" y="332.65" font-family="'Liberation Sans', sans-serif" font-size="7.9" text-anchor="middle" font-weight="400" fill="#222" >H</text>
<text x="558.00" y="342.07" font-family="'Liberation Sans', sans-serif" font-size="7.9" text-anchor="middle" font-weight="400" fill="#222" >E</text>
<text x="558.00" y="351.49" font-family="'Liberation Sans', sans-serif" font-size="7.9" text-anchor="middle" font-weight="400" fill="#222" >R</text>
<text x="558.00" y="360.91" font-family="'Liberation Sans', sans-serif" font-size="7.9" text-anchor="middle" font-weight="400" fill="#222" >E</text>
<text x="558.00" y="370.33" font-family="'Liberation Sans', sans-serif" font-size="7.9" text-anchor="middle" font-weight="400" fill="#222" >-</text>
<text x="558.00" y="379.75" font-family="'Liberation Sans', sans-serif" font-size="7.9" text-anchor="middle" font-weight="400" fill="#222" >-</text>
<text x="558.00" y="389.17" font-family="'Liberation Sans', sans-serif" font-size="7.9" text-anchor="middle" font-weight="400" fill="#222" >-</text>
<polygon points="209.95,316.05 214.25,316.05 217.35,320.20 214.25,324.35 209.95,324.35 212.95,320.20" fill="#000"/>
<polygon points="227.25,316.05 222.95,316.05 219.85,320.20 222.95,324.35 227.25,324.35 224.25,320.20" fill="#000"/>
<polygon points="282.15,316.05 286.45,316.05 289.55,320.20 286.45,324.35 282.15,324.35 285.15,320.20" fill="#000"/>
<polygon points="299.45,316.05 295.15,316.05 292.05,320.20 295.15,324.35 299.45,324.35 296.45,320.20" fill="#000"/>
<polygon points="395.55,316.05 399.85,316.05 402.95,320.20 399.85,324.35 395.55,324.35 398.55,320.20" fill="#000"/>
<polygon points="412.85,316.05 408.55,316.05 405.45,320.20 408.55,324.35 412.85,324.35 409.85,320.20" fill="#000"/>
<polygon points="518.05,316.05 522.35,316.05 525.45,320.20 522.35,324.35 518.05,324.35 521.05,320.20" fill="#000"/>
<polygon points="535.35,316.05 531.05,316.05 527.95,320.20 531.05,324.35 535.35,324.35 532.35,320.20" fill="#000"/>
<polygon points="603.65,316.05 607.95,316.05 611.05,320.20 607.95,324.35 603.65,324.35 606.65,320.20" fill="#000"/>
<polygon points="620.95,316.05 616.65,316.05 613.55,320.20 616.65,324.35 620.95,324.35 617.95,320.20" fill="#000"/>
<polygon points="701.35,316.05 705.65,316.05 708.75,320.20 705.65,324.35 701.35,324.35 704.35,320.20" fill="#000"/>
<polygon points="718.65,316.05 714.35,316.05 711.25,320.20 714.35,324.35 718.65,324.35 715.65,320.20" fill="#000"/>
<polygon points="791.85,316.05 796.15,316.05 799.25,320.20 796.15,324.35 791.85,324.35 794.85,320.20" fill="#000"/>
<polygon points="809.15,316.05 804.85,316.05 801.75,320.20 804.85,324.35 809.15,324.35 806.15,320.20" fill="#000"/>
<path d="M224.3,244.5 L226.0,233.0 Q226.5,230.6 228.8,230.2 L235.2,229.3 L235.2,227.3 L241.8,227.3 L241.8,229.3 L248.4,230.2 Q250.6,230.6 251.0,233.0 L252.0,244.5" fill="#fff" stroke="#222" stroke-width="0.85" />
<rect x="235.6" y="227.6" width="5.8" height="1.8" fill="#bbb"/>
<path d="M232.0,244.5 L234.4,241.6 L242.4,241.6 L245.0,244.5" fill="#fff" stroke="#000" stroke-width="1.1" />
<rect x="235.0" y="240.7" width="6.9" height="1.5" fill="#000"/>
<line x1="235.20" y1="242.00" x2="235.20" y2="244.50" stroke="#000" stroke-width="0.9" />
<line x1="241.80" y1="242.00" x2="241.80" y2="244.50" stroke="#000" stroke-width="0.9" />
<line x1="214.50" y1="218.60" x2="232.60" y2="241.60" stroke="#262626" stroke-width="0.75" />
<polygon points="232.80,241.90 227.04,237.01 229.40,235.16" fill="#111"/>
<line x1="238.30" y1="208.80" x2="238.30" y2="226.00" stroke="#262626" stroke-width="0.75" />
<polygon points="238.30,227.00 236.80,219.60 239.80,219.60" fill="#111"/>
<circle cx="210.70" cy="214.10" r="5.80" fill="#fff" stroke="#444" stroke-width="0.7" />
<text x="210.70" y="216.10" font-family="'Liberation Sans', sans-serif" font-size="5.6" text-anchor="middle" font-weight="400" fill="#222" >A</text>
<circle cx="238.30" cy="202.90" r="5.80" fill="#fff" stroke="#444" stroke-width="0.7" />
<text x="238.30" y="204.90" font-family="'Liberation Sans', sans-serif" font-size="5.6" text-anchor="middle" font-weight="400" fill="#222" >B</text>
<rect x="324.3" y="241.5" width="8.8" height="2.2" fill="#fff" stroke="none"/>
<path d="M324.95,246.0 Q324.95,243.7 327.2,243.7 L330.1,243.7 Q332.35,243.7 332.35,246.0" fill="none" stroke="#404040" stroke-width="1.0" />
<path d="M302.2,244.3 L302.2,233.1 L355.2,233.1 L355.2,244.3" fill="none" stroke="#222" stroke-width="0.9" />
<line x1="302.20" y1="237.10" x2="355.20" y2="237.10" stroke="#222" stroke-width="0.9" />
<line x1="311.00" y1="238.70" x2="346.00" y2="238.70" stroke="#222" stroke-width="1.3" stroke-dasharray="2.6 0.9"/>
<line x1="303.00" y1="240.80" x2="354.50" y2="240.80" stroke="#999" stroke-width="0.8" stroke-dasharray="3.5 1.2"/>
<line x1="303.00" y1="244.60" x2="354.50" y2="244.60" stroke="#999" stroke-width="0.8" stroke-dasharray="3.5 1.2"/>
<path d="M314.1,240.8 L314.1,244.6 M343.2,240.8 L343.2,244.6" fill="none" stroke="#444" stroke-width="0.8" />
<path d="M302.2,243.4 Q316,248.8 326.0,249.9 M333.8,249.9 Q344,248.8 355.2,243.4" fill="none" stroke="#222" stroke-width="0.9" />
<path d="M314.1,244.6 Q320,246.2 326.2,246.4 M333.6,246.4 Q338,246.2 343.2,244.6" fill="none" stroke="#333" stroke-width="0.8" />
<line x1="329.60" y1="219.80" x2="329.60" y2="232.00" stroke="#262626" stroke-width="0.75" />
<polygon points="329.60,233.00 328.10,225.60 331.10,225.60" fill="#111"/>
<circle cx="329.60" cy="202.90" r="5.60" fill="#fff" stroke="#444" stroke-width="0.7" />
<text x="329.60" y="204.90" font-family="'Liberation Sans', sans-serif" font-size="5.6" text-anchor="middle" font-weight="400" fill="#222" >E</text>
<circle cx="329.60" cy="214.10" r="5.60" fill="#fff" stroke="#444" stroke-width="0.7" />
<text x="329.60" y="216.10" font-family="'Liberation Sans', sans-serif" font-size="5.6" text-anchor="middle" font-weight="400" fill="#222" >D</text>
<rect x="493.50" y="242.00" width="6.80" height="2.50" fill="#fff" stroke="#222" stroke-width="0.8"/>
<line x1="496.90" y1="219.90" x2="496.90" y2="240.50" stroke="#262626" stroke-width="0.75" />
<polygon points="496.90,241.80 495.45,234.80 498.35,234.80" fill="#111"/>
<circle cx="496.90" cy="214.00" r="5.80" fill="#fff" stroke="#444" stroke-width="0.7" />
<text x="496.90" y="216.00" font-family="'Liberation Sans', sans-serif" font-size="5.6" text-anchor="middle" font-weight="400" fill="#222" >C</text>
<rect x="616.40" y="242.00" width="6.80" height="2.50" fill="#fff" stroke="#222" stroke-width="0.8"/>
<line x1="619.80" y1="219.90" x2="619.80" y2="240.50" stroke="#262626" stroke-width="0.75" />
<polygon points="619.80,241.80 618.35,234.80 621.25,234.80" fill="#111"/>
<circle cx="619.80" cy="214.00" r="5.80" fill="#fff" stroke="#444" stroke-width="0.7" />
<text x="619.80" y="216.00" font-family="'Liberation Sans', sans-serif" font-size="5.6" text-anchor="middle" font-weight="400" fill="#222" >C</text>
<rect x="646.50" y="242.00" width="6.80" height="2.50" fill="#fff" stroke="#222" stroke-width="0.8"/>
<line x1="649.90" y1="219.90" x2="649.90" y2="240.50" stroke="#262626" stroke-width="0.75" />
<polygon points="649.90,241.80 648.45,234.80 651.35,234.80" fill="#111"/>
<circle cx="649.90" cy="214.00" r="5.80" fill="#fff" stroke="#444" stroke-width="0.7" />
<text x="649.90" y="216.00" font-family="'Liberation Sans', sans-serif" font-size="5.6" text-anchor="middle" font-weight="400" fill="#222" >C</text>
<line x1="466.30" y1="219.90" x2="466.30" y2="242.50" stroke="#262626" stroke-width="0.75" />
<polygon points="466.30,244.00 464.80,236.60 467.80,236.60" fill="#111"/>
<circle cx="466.30" cy="214.00" r="5.80" fill="#fff" stroke="#444" stroke-width="0.7" />
<text x="466.30" y="216.00" font-family="'Liberation Sans', sans-serif" font-size="5.6" text-anchor="middle" font-weight="400" fill="#222" >F</text>
<line x1="558.20" y1="219.90" x2="558.20" y2="242.50" stroke="#262626" stroke-width="0.75" />
<polygon points="558.20,244.00 556.70,236.60 559.70,236.60" fill="#111"/>
<circle cx="558.20" cy="214.00" r="5.80" fill="#fff" stroke="#444" stroke-width="0.7" />
<text x="558.20" y="216.00" font-family="'Liberation Sans', sans-serif" font-size="5.6" text-anchor="middle" font-weight="400" fill="#222" >F</text>
<line x1="788.70" y1="242.20" x2="904.30" y2="242.20" stroke="#666" stroke-width="0.9" />
<line x1="811.90" y1="244.90" x2="882.00" y2="244.90" stroke="#999" stroke-width="0.9" />
<line x1="811.90" y1="395.60" x2="881.60" y2="395.60" stroke="#999" stroke-width="0.9" />
<line x1="786.00" y1="398.10" x2="904.10" y2="398.10" stroke="#888" stroke-width="0.9" />
<line x1="874.20" y1="244.50" x2="874.20" y2="301.50" stroke="#2a2a2a" stroke-width="0.8" />
<line x1="874.20" y1="338.10" x2="874.20" y2="395.50" stroke="#2a2a2a" stroke-width="0.8" />
<polygon points="874.20,244.80 875.55,252.20 872.85,252.20" fill="#111"/>
<polygon points="874.20,395.20 872.85,387.80 875.55,387.80" fill="#111"/>
<text transform="translate(878.00,320.6) rotate(-90)" text-anchor="middle" font-family="'Liberation Sans', sans-serif" font-size="10.5" fill="#000">10&#39;-0&quot;</text>
<line x1="896.40" y1="242.20" x2="896.40" y2="293.60" stroke="#2a2a2a" stroke-width="0.8" />
<line x1="896.40" y1="346.80" x2="896.40" y2="398.10" stroke="#2a2a2a" stroke-width="0.8" />
<polygon points="896.40,242.50 897.75,249.90 895.05,249.90" fill="#111"/>
<polygon points="896.40,397.80 895.05,390.40 897.75,390.40" fill="#111"/>
<text transform="translate(900.20,320.2) rotate(-90)" text-anchor="middle" font-family="'Liberation Sans', sans-serif" font-size="10.5" fill="#000">10&#39;-7 1/4&quot;</text>
<line x1="177.70" y1="322.00" x2="177.70" y2="467.70" stroke="#666" stroke-width="0.8" />
<line x1="847.00" y1="322.00" x2="847.00" y2="466.50" stroke="#666" stroke-width="0.8" />
<line x1="177.70" y1="460.40" x2="492.90" y2="460.40" stroke="#2a2a2a" stroke-width="0.85" />
<line x1="530.00" y1="460.40" x2="847.00" y2="460.40" stroke="#2a2a2a" stroke-width="0.85" />
<polygon points="177.70,460.40 185.10,459.05 185.10,461.75" fill="#111"/>
<polygon points="847.00,460.40 839.60,461.75 839.60,459.05" fill="#111"/>
<text x="512.40" y="463.90" font-family="'Liberation Sans', sans-serif" font-size="10.5" text-anchor="middle" font-weight="400" fill="#000" >44&#39;-6&quot;</text>
<text x="512.00" y="475.00" font-family="'Liberation Sans', sans-serif" font-size="7.9" text-anchor="middle" font-weight="400" fill="#000" >ELEVATION VIEW</text>
<line x1="478.90" y1="476.50" x2="545.20" y2="476.50" stroke="#111" stroke-width="0.7" />
<line x1="211.70" y1="399.60" x2="211.70" y2="415.80" stroke="#7a7a7a" stroke-width="0.9" />
<line x1="238.20" y1="399.60" x2="238.20" y2="415.80" stroke="#7a7a7a" stroke-width="0.9" />
<line x1="211.70" y1="408.40" x2="238.20" y2="408.40" stroke="#2a2a2a" stroke-width="0.8" />
<polygon points="211.70,408.40 218.20,407.05 218.20,409.75" fill="#111"/>
<polygon points="238.20,408.40 231.70,409.75 231.70,407.05" fill="#111"/>
<text x="253.50" y="412.20" font-family="'Liberation Sans', sans-serif" font-size="10.5" text-anchor="middle" font-weight="400" fill="#000" >1&#39;-9&quot;</text>
<line x1="785.70" y1="399.60" x2="785.70" y2="415.80" stroke="#7a7a7a" stroke-width="0.9" />
<line x1="812.10" y1="399.60" x2="812.10" y2="415.80" stroke="#7a7a7a" stroke-width="0.9" />
<line x1="785.70" y1="408.40" x2="812.10" y2="408.40" stroke="#2a2a2a" stroke-width="0.8" />
<polygon points="785.70,408.40 792.20,407.05 792.20,409.75" fill="#111"/>
<polygon points="812.10,408.40 805.60,409.75 805.60,407.05" fill="#111"/>
<text x="770.30" y="412.20" font-family="'Liberation Sans', sans-serif" font-size="10.5" text-anchor="middle" font-weight="400" fill="#000" >1&#39;-9&quot;</text>
<line x1="419.00" y1="399.60" x2="419.00" y2="415.80" stroke="#aaa" stroke-width="0.9" />
<line x1="451.30" y1="399.60" x2="451.30" y2="415.80" stroke="#7a7a7a" stroke-width="0.9" />
<line x1="404.00" y1="408.40" x2="466.90" y2="408.40" stroke="#2a2a2a" stroke-width="0.8" />
<polygon points="419.00,408.40 412.50,409.75 412.50,407.05" fill="#111"/>
<polygon points="435.30,408.40 428.80,409.75 428.80,407.05" fill="#111"/>
<polygon points="435.30,408.40 441.80,407.05 441.80,409.75" fill="#111"/>
<polygon points="451.30,408.40 457.80,407.05 457.80,409.75" fill="#111"/>
<text x="384.20" y="412.20" font-family="'Liberation Sans', sans-serif" font-size="10.5" text-anchor="middle" font-weight="400" fill="#000" >1&#39;-1&quot;</text>
<text x="483.80" y="412.20" font-family="'Liberation Sans', sans-serif" font-size="10.5" text-anchor="middle" font-weight="400" fill="#000" >1&#39;-1&quot;</text>
<line x1="572.40" y1="399.60" x2="572.40" y2="415.80" stroke="#aaa" stroke-width="0.9" />
<line x1="604.60" y1="399.60" x2="604.60" y2="415.80" stroke="#7a7a7a" stroke-width="0.9" />
<line x1="557.40" y1="408.40" x2="620.20" y2="408.40" stroke="#2a2a2a" stroke-width="0.8" />
<polygon points="572.40,408.40 565.90,409.75 565.90,407.05" fill="#111"/>
<polygon points="588.30,408.40 581.80,409.75 581.80,407.05" fill="#111"/>
<polygon points="588.30,408.40 594.80,407.05 594.80,409.75" fill="#111"/>
<polygon points="604.60,408.40 611.10,407.05 611.10,409.75" fill="#111"/>
<text x="540.10" y="412.20" font-family="'Liberation Sans', sans-serif" font-size="10.5" text-anchor="middle" font-weight="400" fill="#000" >1&#39;-1&quot;</text>
<text x="640.20" y="412.20" font-family="'Liberation Sans', sans-serif" font-size="10.5" text-anchor="middle" font-weight="400" fill="#000" >1&#39;-1&quot;</text>
<line x1="165.50" y1="420.50" x2="858.50" y2="420.50" stroke="#444" stroke-width="1.0" />
<line x1="165.50" y1="424.10" x2="858.50" y2="424.10" stroke="#4a4a4a" stroke-width="0.9" />
<line x1="165.50" y1="431.50" x2="858.50" y2="431.50" stroke="#444" stroke-width="1.0" />
<line x1="165.50" y1="420.50" x2="165.50" y2="431.50" stroke="#444" stroke-width="0.8" />
<line x1="858.50" y1="420.50" x2="858.50" y2="431.50" stroke="#444" stroke-width="0.8" />
<line x1="376.60" y1="420.50" x2="376.60" y2="431.50" stroke="#222" stroke-width="0.9" />
<line x1="647.40" y1="420.50" x2="647.40" y2="431.50" stroke="#222" stroke-width="0.9" />
<line x1="180.30" y1="420.50" x2="177.50" y2="431.50" stroke="#888" stroke-width="0.8" />
<line x1="241.30" y1="420.50" x2="244.00" y2="431.50" stroke="#888" stroke-width="0.8" />
<line x1="178.30" y1="429.00" x2="243.20" y2="429.00" stroke="#262626" stroke-width="1.3" stroke-dasharray="3.4 1.4"/>
<line x1="263.90" y1="420.50" x2="260.80" y2="431.50" stroke="#888" stroke-width="0.8" />
<line x1="324.30" y1="420.50" x2="327.00" y2="431.50" stroke="#888" stroke-width="0.8" />
<line x1="261.60" y1="429.00" x2="326.20" y2="429.00" stroke="#262626" stroke-width="1.3" stroke-dasharray="3.4 1.4"/>
<line x1="399.00" y1="420.50" x2="396.60" y2="431.50" stroke="#888" stroke-width="0.8" />
<line x1="459.60" y1="420.50" x2="461.60" y2="431.50" stroke="#888" stroke-width="0.8" />
<line x1="397.40" y1="429.00" x2="460.80" y2="429.00" stroke="#262626" stroke-width="1.3" stroke-dasharray="3.4 1.4"/>
<line x1="481.10" y1="420.50" x2="479.20" y2="431.50" stroke="#888" stroke-width="0.8" />
<line x1="541.80" y1="420.50" x2="544.70" y2="431.50" stroke="#888" stroke-width="0.8" />
<line x1="480.00" y1="429.00" x2="543.90" y2="429.00" stroke="#262626" stroke-width="1.3" stroke-dasharray="3.4 1.4"/>
<line x1="564.20" y1="420.50" x2="561.90" y2="431.50" stroke="#888" stroke-width="0.8" />
<line x1="625.70" y1="420.50" x2="627.70" y2="431.50" stroke="#888" stroke-width="0.8" />
<line x1="562.70" y1="429.00" x2="626.90" y2="429.00" stroke="#262626" stroke-width="1.3" stroke-dasharray="3.4 1.4"/>
<line x1="699.70" y1="420.50" x2="697.00" y2="431.50" stroke="#888" stroke-width="0.8" />
<line x1="760.80" y1="420.50" x2="763.40" y2="431.50" stroke="#888" stroke-width="0.8" />
<line x1="697.80" y1="429.00" x2="762.60" y2="429.00" stroke="#262626" stroke-width="1.3" stroke-dasharray="3.4 1.4"/>
<line x1="782.90" y1="420.50" x2="780.40" y2="431.50" stroke="#888" stroke-width="0.8" />
<line x1="844.40" y1="420.50" x2="846.80" y2="431.50" stroke="#888" stroke-width="0.8" />
<line x1="781.20" y1="429.00" x2="846.00" y2="429.00" stroke="#262626" stroke-width="1.3" stroke-dasharray="3.4 1.4"/>
<path d="M213.80,429.0 Q216.00,429.0 216.00,426.8 L216.00,417.4 Q216.00,414.5 218.40,414.5 Q220.80,414.5 220.80,417.4 L220.80,426.8 Q220.80,429.0 223.00,429.0" fill="none" stroke="#1a1a1a" stroke-width="1.3" stroke-linecap="round"/>
<path d="M286.30,429.0 Q288.50,429.0 288.50,426.8 L288.50,417.4 Q288.50,414.5 290.90,414.5 Q293.30,414.5 293.30,417.4 L293.30,426.8 Q293.30,429.0 295.50,429.0" fill="none" stroke="#1a1a1a" stroke-width="1.3" stroke-linecap="round"/>
<path d="M399.50,429.0 Q401.70,429.0 401.70,426.8 L401.70,417.4 Q401.70,414.5 404.10,414.5 Q406.50,414.5 406.50,417.4 L406.50,426.8 Q406.50,429.0 408.70,429.0" fill="none" stroke="#1a1a1a" stroke-width="1.3" stroke-linecap="round"/>
<path d="M521.90,429.0 Q524.10,429.0 524.10,426.8 L524.10,417.4 Q524.10,414.5 526.50,414.5 Q528.90,414.5 528.90,417.4 L528.90,426.8 Q528.90,429.0 531.10,429.0" fill="none" stroke="#1a1a1a" stroke-width="1.3" stroke-linecap="round"/>
<path d="M607.60,429.0 Q609.80,429.0 609.80,426.8 L609.80,417.4 Q609.80,414.5 612.20,414.5 Q614.60,414.5 614.60,417.4 L614.60,426.8 Q614.60,429.0 616.80,429.0" fill="none" stroke="#1a1a1a" stroke-width="1.3" stroke-linecap="round"/>
<path d="M705.20,429.0 Q707.40,429.0 707.40,426.8 L707.40,417.4 Q707.40,414.5 709.80,414.5 Q712.20,414.5 712.20,417.4 L712.20,426.8 Q712.20,429.0 714.40,429.0" fill="none" stroke="#1a1a1a" stroke-width="1.3" stroke-linecap="round"/>
<path d="M795.70,429.0 Q797.90,429.0 797.90,426.8 L797.90,417.4 Q797.90,414.5 800.30,414.5 Q802.70,414.5 802.70,417.4 L802.70,426.8 Q802.70,429.0 804.90,429.0" fill="none" stroke="#1a1a1a" stroke-width="1.3" stroke-linecap="round"/>
<line x1="251.40" y1="432.20" x2="243.40" y2="442.40" stroke="#444" stroke-width="0.7" />
<circle cx="239.80" cy="447.00" r="5.80" fill="#fff" stroke="#444" stroke-width="0.7" />
<text x="239.80" y="449.00" font-family="'Liberation Sans', sans-serif" font-size="5.6" text-anchor="middle" font-weight="400" fill="#222" >G</text>
<line x1="511.90" y1="432.00" x2="519.80" y2="442.20" stroke="#444" stroke-width="0.7" />
<circle cx="523.60" cy="446.80" r="5.80" fill="#fff" stroke="#444" stroke-width="0.7" />
<text x="523.60" y="448.80" font-family="'Liberation Sans', sans-serif" font-size="5.6" text-anchor="middle" font-weight="400" fill="#222" >H</text>
<line x1="772.00" y1="432.00" x2="780.20" y2="442.40" stroke="#444" stroke-width="0.7" />
<circle cx="783.90" cy="447.00" r="5.80" fill="#fff" stroke="#444" stroke-width="0.7" />
<text x="783.90" y="449.00" font-family="'Liberation Sans', sans-serif" font-size="5.6" text-anchor="middle" font-weight="400" fill="#222" >G</text>
<line x1="18.90" y1="483.30" x2="688.50" y2="483.30" stroke="#3a3a3a" stroke-width="0.9" />
<line x1="18.90" y1="498.40" x2="688.50" y2="498.40" stroke="#3a3a3a" stroke-width="0.9" />
<line x1="18.90" y1="513.40" x2="688.50" y2="513.40" stroke="#3a3a3a" stroke-width="0.9" />
<line x1="18.90" y1="528.50" x2="688.50" y2="528.50" stroke="#3a3a3a" stroke-width="0.9" />
<line x1="18.90" y1="543.30" x2="688.50" y2="543.30" stroke="#3a3a3a" stroke-width="0.9" />
<line x1="18.90" y1="567.50" x2="688.50" y2="567.50" stroke="#3a3a3a" stroke-width="0.9" />
<line x1="18.90" y1="582.40" x2="688.50" y2="582.40" stroke="#3a3a3a" stroke-width="0.9" />
<line x1="18.90" y1="597.30" x2="688.50" y2="597.30" stroke="#3a3a3a" stroke-width="0.9" />
<line x1="18.90" y1="612.20" x2="688.50" y2="612.20" stroke="#3a3a3a" stroke-width="0.9" />
<line x1="18.90" y1="627.10" x2="688.50" y2="627.10" stroke="#3a3a3a" stroke-width="0.9" />
<line x1="688.50" y1="483.30" x2="688.50" y2="642.50" stroke="#666" stroke-width="0.9" />
<line x1="56.30" y1="483.30" x2="56.30" y2="642.50" stroke="#3a3a3a" stroke-width="0.9" />
<line x1="86.30" y1="483.30" x2="86.30" y2="642.50" stroke="#3a3a3a" stroke-width="0.9" />
<text x="37.60" y="493.00" font-family="'Liberation Sans', sans-serif" font-size="7.9" text-anchor="middle" font-weight="400" fill="#000" >ITEM</text>
<text x="71.30" y="493.00" font-family="'Liberation Sans', sans-serif" font-size="7.9" text-anchor="middle" font-weight="400" fill="#000" >QTY</text>
<text x="90.20" y="492.95" font-family="'Liberation Sans', sans-serif" font-size="7.9" text-anchor="start" font-weight="400" fill="#000" >EQUIPMENT LISTING</text>
<text x="37.60" y="508.05" font-family="'Liberation Sans', sans-serif" font-size="7.9" text-anchor="middle" font-weight="400" fill="#000" >A</text>
<text x="71.30" y="508.05" font-family="'Liberation Sans', sans-serif" font-size="7.9" text-anchor="middle" font-weight="400" fill="#000" >1</text>
<text x="90.20" y="508.00" font-family="'Liberation Sans', sans-serif" font-size="7.9" text-anchor="start" font-weight="400" fill="#000" >DRY INTERSTITIAL MONITOR HOUSING WITH <tspan font-weight="700">4&quot;</tspan> NPT FITTING</text>
<text x="37.60" y="523.10" font-family="'Liberation Sans', sans-serif" font-size="7.9" text-anchor="middle" font-weight="400" fill="#000" >B</text>
<text x="71.30" y="523.10" font-family="'Liberation Sans', sans-serif" font-size="7.9" text-anchor="middle" font-weight="400" fill="#000" >1</text>
<text x="90.20" y="523.05" font-family="'Liberation Sans', sans-serif" font-size="7.9" text-anchor="start" font-weight="400" fill="#000" >WET INTERSTITIAL MONITORING RESERVOIR WITH <tspan font-weight="700">4&quot;</tspan> NPT <tspan font-weight="700">FRP</tspan> FITTING (OPTIONAL)</text>
<text x="37.60" y="538.05" font-family="'Liberation Sans', sans-serif" font-size="7.9" text-anchor="middle" font-weight="400" fill="#000" >C</text>
<text x="71.30" y="538.05" font-family="'Liberation Sans', sans-serif" font-size="7.9" text-anchor="middle" font-weight="400" fill="#000" >3</text>
<text x="90.20" y="538.00" font-family="'Liberation Sans', sans-serif" font-size="7.9" text-anchor="start" font-weight="400" fill="#000" ><tspan font-weight="700">4&quot;</tspan> NPT <tspan font-weight="700">FULL COUPLING FRP SHELL WALL FITTING</tspan> WITH STRIKER PLATE (OPTIONAL, 6&quot; ALSO AVAILABLE)</text>
<text x="37.60" y="558.30" font-family="'Liberation Sans', sans-serif" font-size="7.9" text-anchor="middle" font-weight="400" fill="#000" >D</text>
<text x="71.30" y="558.30" font-family="'Liberation Sans', sans-serif" font-size="7.9" text-anchor="middle" font-weight="400" fill="#000" >1</text>
<text x="90.20" y="552.60" font-family="'Liberation Sans', sans-serif" font-size="7.9" text-anchor="start" font-weight="400" fill="#000" >22&quot; DIAMETER FRP MANWAY WITH STEEL COVER, <tspan font-weight="700">4-4&quot;</tspan> NPT <tspan font-weight="700">HALF</tspan> COUPLING STEEL FITTINGS IN COVER WITH STRIKER PLATE (OPTIONAL, 24&quot; AND 30&quot;</text>
<text x="90.20" y="562.40" font-family="'Liberation Sans', sans-serif" font-size="7.9" text-anchor="start" font-weight="400" fill="#000" >DIAMETER COVERS ALSO AVAILABLE, UP TO 5 FITTINGS IN COVER, 2&quot; AND 6&quot; ALSO AVAILABLE, FULL COUPLINGS ALSO AVAILABLE)</text>
<text x="37.60" y="577.10" font-family="'Liberation Sans', sans-serif" font-size="7.9" text-anchor="middle" font-weight="400" fill="#000" >E</text>
<text x="71.30" y="577.10" font-family="'Liberation Sans', sans-serif" font-size="7.9" text-anchor="middle" font-weight="400" fill="#000" >1</text>
<text x="90.20" y="577.05" font-family="'Liberation Sans', sans-serif" font-size="7.9" text-anchor="start" font-weight="400" fill="#000" >42&quot; DIAMETER X 6&quot; TALL CONTAINMENT COLLAR (OPTIONAL, 48&quot; DIAMETER ALSO AVAILABLE)</text>
<text x="37.60" y="592.00" font-family="'Liberation Sans', sans-serif" font-size="7.9" text-anchor="middle" font-weight="400" fill="#000" >F</text>
<text x="71.30" y="592.00" font-family="'Liberation Sans', sans-serif" font-size="7.9" text-anchor="middle" font-weight="400" fill="#000" >2</text>
<text x="90.20" y="591.95" font-family="'Liberation Sans', sans-serif" font-size="7.9" text-anchor="start" font-weight="400" fill="#000" ><tspan font-weight="700">FTS SUPPLIED LIFTING SLINGS</tspan> (LIFTING LUGS ARE ONLY ADDED IF ORDERED AS AN OPTION - 6 LIFTING LUGS REQUIRED AS OPTION)</text>
<text x="37.60" y="606.90" font-family="'Liberation Sans', sans-serif" font-size="7.9" text-anchor="middle" font-weight="400" fill="#000" >G</text>
<text x="71.30" y="606.90" font-family="'Liberation Sans', sans-serif" font-size="7.9" text-anchor="middle" font-weight="400" fill="#000" >4</text>
<text x="90.20" y="606.85" font-family="'Liberation Sans', sans-serif" font-size="7.9" text-anchor="start" font-weight="400" fill="#000" >18&quot; WIDE X 8.75&quot; TALL FTS-MANUFACTURED PREFABRICATED CONCRETE DEADMAN (1,900 LBS EA) + HOLD-DOWN STRAPS AND TURNBUCKLES</text>
<text x="37.60" y="621.80" font-family="'Liberation Sans', sans-serif" font-size="7.9" text-anchor="middle" font-weight="400" fill="#000" >H</text>
<text x="71.30" y="621.80" font-family="'Liberation Sans', sans-serif" font-size="7.9" text-anchor="middle" font-weight="400" fill="#000" >2</text>
<text x="90.20" y="621.75" font-family="'Liberation Sans', sans-serif" font-size="7.9" text-anchor="start" font-weight="400" fill="#000" >18&quot; WIDE X 8.75&quot; TALL FTS-MANUFACTURED PREFABRICATED CONCRETE DEADMAN (2,400 LBS EA) + HOLD-DOWN STRAPS AND TURNBUCKLES</text>
<polygon points="26.80,631.15 31.88,631.15 35.55,635.50 31.88,639.85 26.80,639.85 30.35,635.50" fill="#000"/>
<polygon points="48.00,631.15 42.92,631.15 39.25,635.50 42.92,639.85 48.00,639.85 44.45,635.50" fill="#000"/>
<text x="71.30" y="636.95" font-family="'Liberation Sans', sans-serif" font-size="7.9" text-anchor="middle" font-weight="400" fill="#000" >7</text>
<text x="90.20" y="636.90" font-family="'Liberation Sans', sans-serif" font-size="7.9" text-anchor="start" font-weight="400" fill="#000" >FTS-SUPPLIED HOLD DOWN STRAP LOCATION</text>
<path d="M799.6,642.5 L799.6,510.7 L1005.0,510.7" fill="none" stroke="#3a3a3a" stroke-width="0.9" />
<path d="M1005.0,512.9 L801.9,512.9 L801.9,559.2 L1005.0,559.2" fill="none" stroke="#3a3a3a" stroke-width="0.9" />
<rect x="801.90" y="561.60" width="100.20" height="22.40" fill="none" stroke="#3a3a3a" stroke-width="0.9"/>
<path d="M1005.0,561.6 L904.5,561.6 L904.5,584.0 L1005.0,584.0" fill="none" stroke="#3a3a3a" stroke-width="0.9" />
<rect x="801.90" y="586.40" width="100.20" height="21.70" fill="none" stroke="#3a3a3a" stroke-width="0.9"/>
<path d="M1005.0,586.4 L904.5,586.4 L904.5,608.1 L1005.0,608.1" fill="none" stroke="#3a3a3a" stroke-width="0.9" />
<path d="M801.9,642.5 L801.9,610.5 L902.1,610.5 L902.1,642.5" fill="none" stroke="#3a3a3a" stroke-width="0.9" />
<path d="M1005.0,610.5 L904.5,610.5 L904.5,642.5" fill="none" stroke="#3a3a3a" stroke-width="0.9" />
</g><g class="logo">
<path d="M811.6,524.2 Q807.6,527.2 805.6,530.4 Q804.6,534.2 807.4,536.6 Q808.6,537.6 810.4,538.0 Q809.2,533.0 809.9,529.4 Q810.4,526.2 811.6,524.2 Z" fill="#2492dc" stroke="none" stroke-width="0" />
<path d="M811.8,523.9 Q815.4,522.3 819.6,522.4 Q823.4,522.6 827.3,525.4 Q823.6,525.2 820.4,525.9 Q815.8,527.0 812.2,529.4 Q811.6,526.4 811.8,523.9 Z" fill="#2492dc" stroke="none" stroke-width="0" />
<path d="M813.2,522.6 Q810.6,525.6 809.8,529.6 Q809.2,534.0 810.4,537.9 L815.1,537.9 Q813.0,533.4 812.3,530.4 Q811.7,526.6 814.2,523.0 Z" fill="#0f3163" stroke="none" stroke-width="0" />
<path d="M812.8,522.4 Q815.2,519.0 818.9,518.4 Q822.8,519.0 825.4,523.6 Q821.6,521.9 817.8,521.9 Q815.2,522.0 812.8,522.4 Z" fill="#0f3163" stroke="none" stroke-width="0" />
<text x="817.00" y="537.80" font-family="'Liberation Serif', sans-serif" font-size="13" text-anchor="start" font-weight="700" fill="#1b1b1f" >Fiberglass Tank</text>
<text x="853.80" y="547.50" font-family="'Liberation Sans', sans-serif" font-size="8.6" text-anchor="start" font-weight="700" fill="#3a97d6" letter-spacing="0.22">SOLUTIONS</text>
</g><g class="mono">
<text x="856.00" y="555.40" font-family="'Liberation Sans', sans-serif" font-size="8.1" text-anchor="middle" font-weight="400" fill="#222" >www.fgtsolutions.com</text>
<text x="958.80" y="522.80" font-family="'Liberation Sans', sans-serif" font-size="7.9" text-anchor="middle" font-weight="400" fill="#000" >DOUBLE-WALL</text>
<text x="958.80" y="533.80" font-family="'Liberation Sans', sans-serif" font-size="7.9" text-anchor="middle" font-weight="400" fill="#000" >10-FT DIAMETER</text>
<text x="959.30" y="545.50" font-family="'Liberation Sans', sans-serif" font-size="7.9" text-anchor="middle" font-weight="400" fill="#000" >25,000-GALLON TANK</text>
<text x="959.20" y="554.30" font-family="'Liberation Sans', sans-serif" font-size="5.25" text-anchor="middle" font-weight="400" fill="#333" >UL1316 - LISTED FUEL TANK</text>
<text x="805.10" y="571.20" font-family="'Liberation Sans', sans-serif" font-size="7.9" text-anchor="start" font-weight="400" fill="#000" >TANK WEIGHT</text>
<text x="805.10" y="580.70" font-family="'Liberation Sans', sans-serif" font-size="7.9" text-anchor="start" font-weight="400" fill="#000" >DRY-MONITORED</text>
<text x="954.60" y="576.00" font-family="'Liberation Sans', sans-serif" font-size="7.9" text-anchor="middle" font-weight="400" fill="#000" >10,700 LBS</text>
<text x="805.10" y="595.50" font-family="'Liberation Sans', sans-serif" font-size="7.9" text-anchor="start" font-weight="400" fill="#000" >TANK WEIGHT</text>
<text x="805.10" y="605.30" font-family="'Liberation Sans', sans-serif" font-size="7.9" text-anchor="start" font-weight="400" fill="#000" >BRINE-MONITORED</text>
<text x="954.60" y="600.60" font-family="'Liberation Sans', sans-serif" font-size="7.9" text-anchor="middle" font-weight="400" fill="#000" >12,200 LBS</text>
<text x="852.10" y="624.70" font-family="'Liberation Sans', sans-serif" font-size="7.9" text-anchor="middle" font-weight="400" fill="#000" >ACTUAL CAPACITY</text>
<text x="852.10" y="634.40" font-family="'Liberation Sans', sans-serif" font-size="7.9" text-anchor="middle" font-weight="400" fill="#000" >25,047 GALLONS</text>
<text x="909.00" y="620.70" font-family="'Liberation Sans', sans-serif" font-size="7.9" text-anchor="start" font-weight="400" fill="#000" >DRAWING NUMBER:</text>
<text x="909.00" y="630.20" font-family="'Liberation Sans', sans-serif" font-size="7.9" text-anchor="start" font-weight="400" fill="#000" >FTSP- 260-014</text>
<text x="909.00" y="639.40" font-family="'Liberation Sans', sans-serif" font-size="7.9" text-anchor="start" font-weight="400" fill="#000" >DATE: 09/22/25</text>
</g>
</svg>
</body>
</html>
